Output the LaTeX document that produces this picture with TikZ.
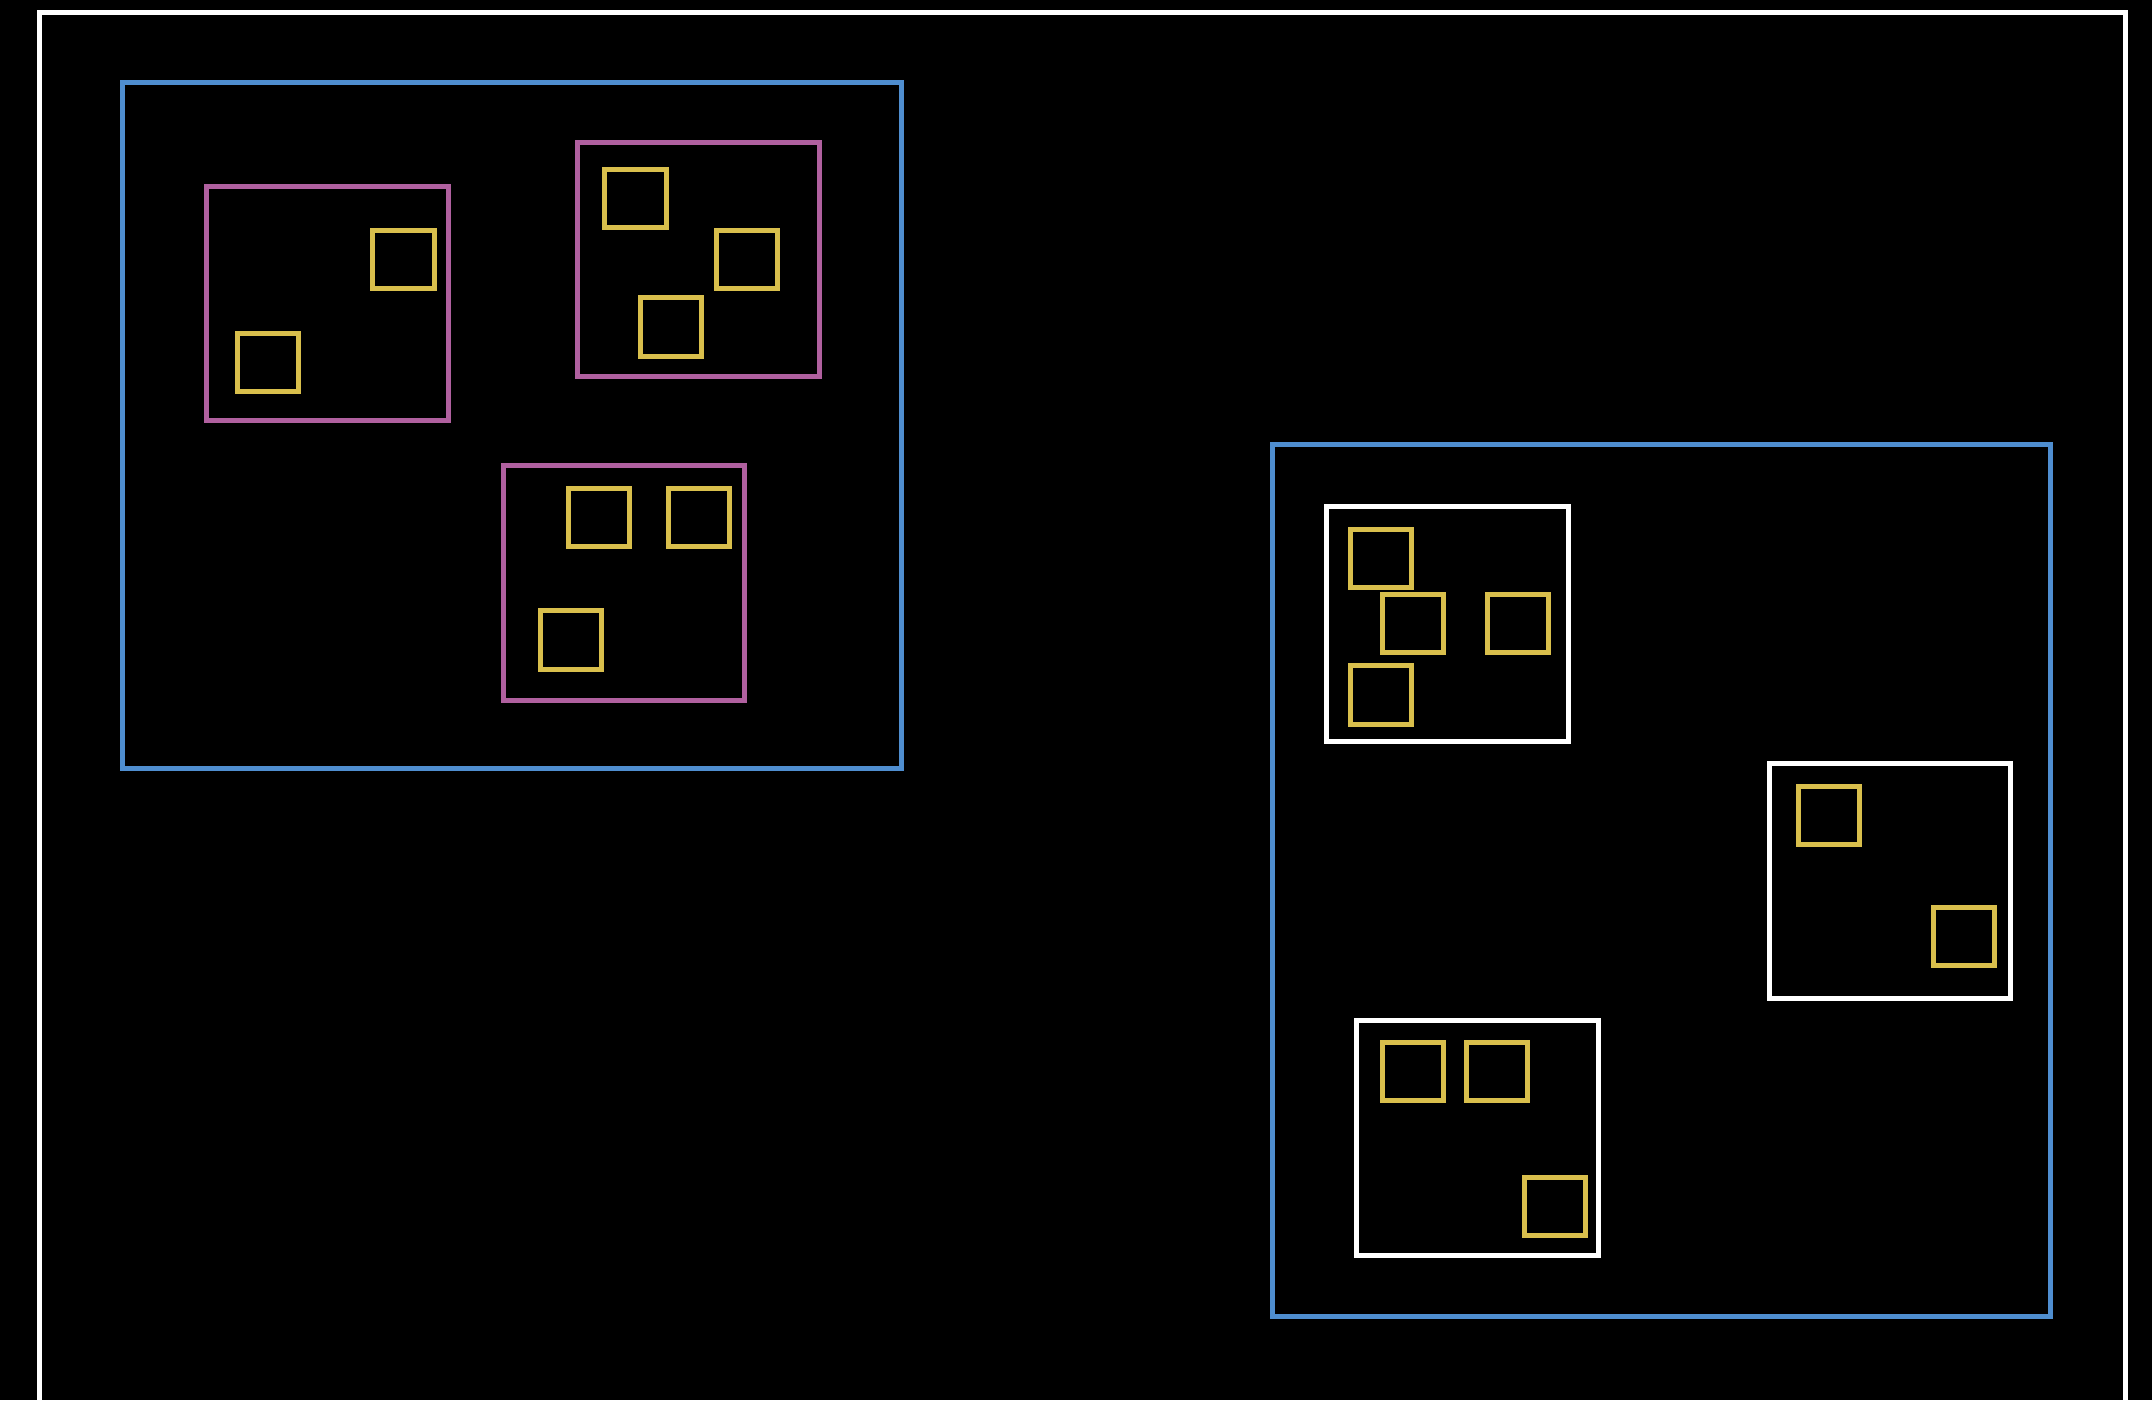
\documentclass[tikz,border=0pt]{standalone}
\usepackage{tikz}
\usetikzlibrary{positioning}
\definecolor{bleu}{RGB}{79,142,208}
\definecolor{rose}{RGB}{176,96,159}
\definecolor{jaune}{RGB}{217,191,76}

\begin{document}
\begin{tikzpicture}[
                x=0.01cm, y=-0.01cm,
                every node/.style={draw, rectangle, inner sep=0pt, outer sep=0pt, line width=0.05cm},
                groupe/.style={draw=bleu},
                boite/.style={minimum width=2.415cm, minimum height=2.345cm},
                rosebox/.style={boite, draw=rose},
                blancbox/.style={boite, draw=white},
                item/.style={draw=jaune, minimum width=0.61cm, minimum height=0.583cm}]
            \clip (0,0) rectangle (2152,1400);
            \fill[black] (0,0) rectangle (2152,1400);

            % Cadre
            \draw[white, line width=0.05cm] (39.5,13) rectangle (2125.5,1460);

            % Groupe gauche
            \node[groupe, minimum width=7.785cm, minimum height=6.855cm] (gauche) at (511.75,425.25) {};
            \node[rosebox] (r1) at (327.25,303.5) {};
            \node[rosebox] (r2) at (698.5,259.5) {};
            \node[rosebox] (r3) at (623.9,583) {};

            % Groupe droit
            \node[groupe, minimum width=7.773cm, minimum height=8.713cm] (droit) at (1661.85,880.85) {};
            \node[blancbox] (b1) at (1447.35,624) {};
            \node[blancbox] (b2) at (1890,881.2) {};
            \node[blancbox] (b3) at (1477.5,1137.8) {};

            % Elements
            \foreach \x/\y [count=\i] in {403.5/259.3, 268/362.3,
                    635.5/198.3, 747.3/259.3, 670.7/327,
                    599.2/517.3, 698.8/517.3, 570.8/640,
                    1380.8/558.2, 1412.8/623.8, 1517.8/623.8, 1380.8/695,
                    1828.8/815.8, 1963.8/936.8,
                    1412.7/1071.8, 1496.5/1071.8, 1555/1206.8}
                \node[item] (e\i) at (\x,\y) {};

        \end{tikzpicture}
\end{document}
